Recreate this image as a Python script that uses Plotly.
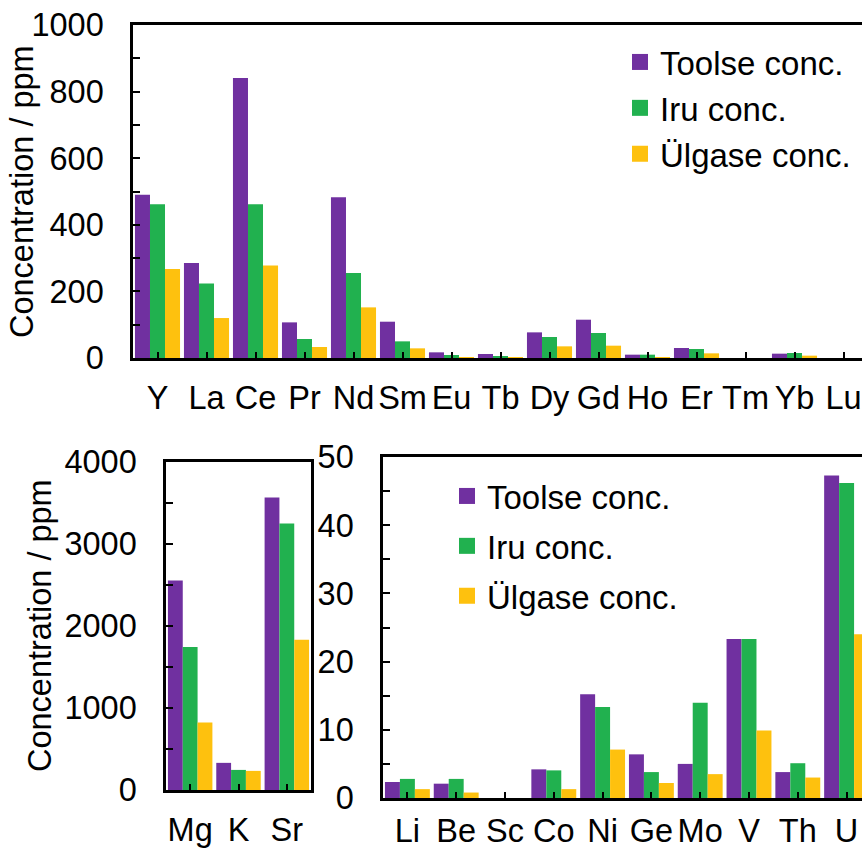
import plotly.graph_objects as go

# Rare earth elements (top panel)
ree_elements = ["Y", "La", "Ce", "Pr", "Nd", "Sm", "Eu", "Tb", "Dy", "Gd", "Ho", "Er", "Tm", "Yb", "Lu"]
ree_toolse = [490, 285, 841, 107, 483, 109, 17, 12, 77, 115, 10, 30, 0, 13, 0]
ree_iru = [462, 224, 462, 57, 255, 50, 9, 6, 63, 75, 10, 27, 0, 15, 0]
ree_ulgase = [267, 120, 278, 33, 152, 29, 3, 1, 35, 37, 3, 14, 0, 7, 0]

# Major cations (bottom left panel)
major_elements = ["Mg", "K", "Sr"]
major_toolse = [2555, 331, 3567]
major_iru = [1743, 245, 3249]
major_ulgase = [824, 233, 1833]

# Trace elements (bottom right panel)
trace_elements = ["Li", "Be", "Sc", "Co", "Ni", "Ge", "Mo", "V", "Th", "U"]
trace_toolse = [2.35, 2.1, 0, 4.2, 15.2, 6.4, 5.0, 23.3, 3.8, 47.3]
trace_iru = [2.8, 2.8, 0, 4.05, 13.35, 3.8, 13.95, 23.3, 5.1, 46.2]
trace_ulgase = [1.3, 0.8, 0, 1.3, 7.1, 2.2, 3.5, 9.9, 3.0, 24.0]

series_names = ["Toolse conc.", "Iru conc.", "Ülgase conc."]
series_colors = ["#7030A0", "#21B14F", "#FEC10E"]

FONT = "Liberation Sans, Arial, sans-serif"
FS = 32.5
LEGEND_FS = 33
W, H = 862, 850

fig = go.Figure()

panels = [
    ("x", "y", ree_elements, [ree_toolse, ree_iru, ree_ulgase]),
    ("x2", "y2", major_elements, [major_toolse, major_iru, major_ulgase]),
    ("x3", "y3", trace_elements, [trace_toolse, trace_iru, trace_ulgase]),
]
for xa, ya, cats, values in panels:
    for name, color, vals in zip(series_names, series_colors, values):
        fig.add_trace(go.Bar(
            x=cats, y=vals, name=name, xaxis=xa, yaxis=ya,
            marker=dict(color=color, line=dict(width=0)),
            showlegend=False,
        ))

# legend entries (square swatches) for the top and bottom-right panels
for legend_id, xa, ya in [("legend", "x", "y"), ("legend2", "x3", "y3")]:
    for i, (name, color) in enumerate(zip(series_names, series_colors)):
        fig.add_trace(go.Scatter(
            x=[None], y=[None], mode="markers", name=name,
            xaxis=xa, yaxis=ya, legend=legend_id,
            legendgroup=f"{legend_id}_{i}",
            marker=dict(symbol="square", size=16, color=color, line=dict(width=0)),
            showlegend=True,
        ))

line_w = 2.5
tick_common = dict(ticks="inside", ticklen=7, tickwidth=2, tickcolor="black",
                   showgrid=False, zeroline=False, showline=True,
                   linecolor="black", linewidth=line_w, automargin=False,
                   tickfont=dict(family=FONT, size=FS, color="black"))


def px_x(v):
    return v / W


def px_y(v):
    return 1 - v / H


def x_axis(domain, cats, rng, anchor, mirror=True, standoff=9):
    d = dict(tick_common)
    d.update(domain=domain, anchor=anchor, type="category",
             categoryorder="array", categoryarray=cats, range=rng,
             mirror=mirror, ticklen=6, ticklabelstandoff=standoff)
    return d


def y_axis(domain, rng, dtick, minor_dtick, anchor, mirror=False):
    d = dict(tick_common)
    d.update(domain=domain, anchor=anchor, range=rng, tick0=0, dtick=dtick,
             mirror=mirror, ticklabelstandoff=20,
             minor=dict(dtick=minor_dtick, tick0=0, ticks="inside", ticklen=7,
                        tickwidth=2, tickcolor="black", showgrid=False))
    return d


# top panel geometry (pixels)
t_left, t_top, t_bottom, t_step = 133, 25, 358, 49.0
# bottom-left panel
bl_left, bl_right, bl_top, bl_bottom = 166, 311, 462, 790
# bottom-right panel
br_left, br_top, br_bottom, br_step = 383, 457, 798, 48.8

fig.update_layout(
    width=W, height=H,
    margin=dict(l=0, r=0, t=0, b=0, autoexpand=False),
    paper_bgcolor="white", plot_bgcolor="white",
    font=dict(family=FONT, size=FS, color="black"),
    barmode="group", bargap=0.08, bargroupgap=0,
    xaxis=x_axis([px_x(t_left), 1], ree_elements,
                 [-0.5, (W - t_left) / t_step - 0.5], "y"),
    yaxis=y_axis([px_y(t_bottom), px_y(t_top)], [0, 1000], 200, 100, "x"),
    xaxis2=x_axis([px_x(bl_left), px_x(bl_right)], major_elements, [-0.5, 2.5], "y2"),
    yaxis2=y_axis([px_y(bl_bottom), px_y(bl_top)], [0, 4000], 1000, 500, "x2", mirror=True),
    xaxis3=x_axis([px_x(br_left), 1], trace_elements,
                  [-0.5, (W - br_left) / br_step - 0.5], "y3", standoff=2),
    yaxis3=y_axis([px_y(br_bottom), px_y(br_top)], [0, 50], 10, 5, "x3"),
    legend=dict(x=px_x(620), y=px_y(34), xanchor="left", yanchor="top",
                bgcolor="rgba(0,0,0,0)", borderwidth=0, tracegroupgap=0,
                font=dict(family=FONT, size=LEGEND_FS, color="black")),
    legend2=dict(x=px_x(447), y=px_y(468), xanchor="left", yanchor="top",
                 bgcolor="rgba(0,0,0,0)", borderwidth=0, tracegroupgap=4,
                 font=dict(family=FONT, size=LEGEND_FS, color="black")),
    annotations=[
        dict(text="Concentration / ppm", textangle=-90, x=px_x(22), y=px_y(192),
             xref="paper", yref="paper", xanchor="center", yanchor="middle",
             showarrow=False, font=dict(family=FONT, size=FS, color="black")),
        dict(text="Concentration / ppm", textangle=-90, x=px_x(40), y=px_y(626),
             xref="paper", yref="paper", xanchor="center", yanchor="middle",
             showarrow=False, font=dict(family=FONT, size=FS, color="black")),
    ],
)

fig.write_html("out.html")
